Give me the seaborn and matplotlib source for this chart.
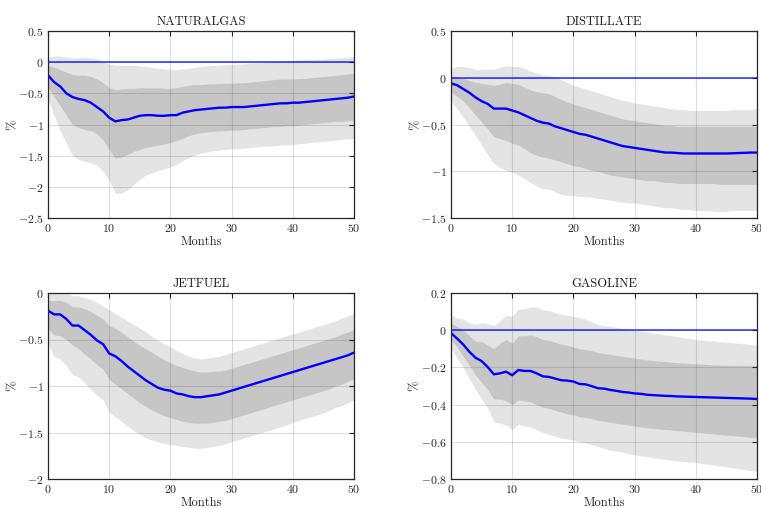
import numpy as np
import pandas as pd
import matplotlib
matplotlib.use("Agg")
import matplotlib.pyplot as plt
import seaborn as sns

months = list(range(51))

# ---------------- NATURALGAS ----------------
ng_median = [-0.21, -0.32, -0.39, -0.50, -0.56, -0.59, -0.61, -0.65, -0.72, -0.79,
             -0.89, -0.95, -0.93, -0.92, -0.89, -0.86, -0.85, -0.85, -0.86, -0.86,
             -0.85, -0.85, -0.81, -0.79, -0.77, -0.76, -0.75, -0.74, -0.73, -0.73,
             -0.72, -0.72, -0.72, -0.71, -0.70, -0.69, -0.68, -0.67, -0.66, -0.66,
             -0.65, -0.65, -0.64, -0.63, -0.62, -0.61, -0.60, -0.59, -0.58, -0.57, -0.55]
ng_up68 = [-0.05, -0.08, -0.12, -0.16, -0.20, -0.21, -0.21, -0.23, -0.27, -0.33,
           -0.41, -0.44, -0.43, -0.42, -0.42, -0.41, -0.41, -0.41, -0.41, -0.42,
           -0.42, -0.41, -0.39, -0.37, -0.36, -0.36, -0.35, -0.35, -0.34, -0.34,
           -0.34, -0.33, -0.33, -0.32, -0.31, -0.30, -0.29, -0.28, -0.27, -0.27,
           -0.27, -0.26, -0.26, -0.25, -0.24, -0.23, -0.22, -0.21, -0.20, -0.19, -0.18]
ng_lo68 = [-0.40, -0.55, -0.70, -0.85, -1.00, -1.05, -1.08, -1.10, -1.15, -1.25,
           -1.40, -1.54, -1.52, -1.48, -1.43, -1.40, -1.37, -1.35, -1.33, -1.31,
           -1.29, -1.26, -1.22, -1.18, -1.15, -1.13, -1.12, -1.11, -1.10, -1.10,
           -1.09, -1.09, -1.08, -1.07, -1.06, -1.05, -1.04, -1.03, -1.03, -1.02,
           -1.02, -1.01, -1.00, -0.99, -0.98, -0.97, -0.96, -0.95, -0.95, -0.94, -0.93]
ng_up90 = [0.08, 0.10, 0.10, 0.08, 0.06, 0.07, 0.08, 0.07, 0.05, 0.01,
           -0.03, -0.05, -0.05, -0.05, -0.05, -0.06, -0.07, -0.08, -0.10, -0.11,
           -0.11, -0.12, -0.11, -0.10, -0.08, -0.07, -0.06, -0.05, -0.05, -0.04,
           -0.04, -0.03, -0.03, -0.02, -0.01, -0.01, 0.00, 0.01, 0.02, 0.02,
           0.03, 0.03, 0.04, 0.04, 0.05, 0.05, 0.06, 0.06, 0.07, 0.08, 0.09]
ng_lo90 = [-0.60, -0.85, -1.10, -1.30, -1.50, -1.56, -1.59, -1.62, -1.65, -1.75,
           -1.90, -2.10, -2.10, -2.05, -1.97, -1.88, -1.81, -1.78, -1.74, -1.71,
           -1.68, -1.64, -1.58, -1.53, -1.49, -1.46, -1.44, -1.42, -1.41, -1.40,
           -1.39, -1.39, -1.38, -1.37, -1.36, -1.35, -1.35, -1.34, -1.33, -1.33,
           -1.32, -1.31, -1.30, -1.29, -1.28, -1.27, -1.26, -1.25, -1.24, -1.23, -1.22]

# ---------------- DISTILLATE ----------------
di_median = [-0.06, -0.08, -0.12, -0.16, -0.21, -0.25, -0.28, -0.33, -0.33, -0.33,
             -0.35, -0.37, -0.40, -0.43, -0.46, -0.48, -0.49, -0.52, -0.54, -0.56,
             -0.58, -0.60, -0.61, -0.63, -0.65, -0.67, -0.69, -0.71, -0.73, -0.74,
             -0.75, -0.76, -0.77, -0.78, -0.79, -0.80, -0.80, -0.805, -0.81, -0.81,
             -0.81, -0.81, -0.81, -0.81, -0.81, -0.81, -0.808, -0.805, -0.803, -0.80, -0.80]
di_up68 = [0.02, 0.01, -0.01, -0.03, -0.05, -0.06, -0.07, -0.08, -0.07, -0.05,
           -0.06, -0.07, -0.10, -0.13, -0.15, -0.16, -0.17, -0.20, -0.23, -0.26,
           -0.28, -0.30, -0.32, -0.34, -0.36, -0.38, -0.40, -0.42, -0.44, -0.45,
           -0.46, -0.47, -0.48, -0.49, -0.50, -0.51, -0.51, -0.52, -0.52, -0.52,
           -0.52, -0.52, -0.52, -0.52, -0.52, -0.52, -0.52, -0.52, -0.52, -0.52, -0.52]
di_lo68 = [-0.15, -0.20, -0.25, -0.32, -0.40, -0.47, -0.55, -0.63, -0.65, -0.67,
           -0.70, -0.72, -0.76, -0.80, -0.83, -0.85, -0.86, -0.88, -0.90, -0.92,
           -0.94, -0.95, -0.97, -0.99, -1.00, -1.02, -1.04, -1.05, -1.06, -1.07,
           -1.08, -1.09, -1.10, -1.10, -1.11, -1.12, -1.12, -1.13, -1.13, -1.13,
           -1.13, -1.13, -1.13, -1.13, -1.14, -1.14, -1.14, -1.14, -1.14, -1.14, -1.14]
di_up90 = [0.10, 0.12, 0.12, 0.11, 0.09, 0.09, 0.09, 0.09, 0.11, 0.13,
           0.12, 0.12, 0.10, 0.07, 0.05, 0.03, 0.02, 0.01, -0.02, -0.05,
           -0.08, -0.10, -0.12, -0.14, -0.16, -0.18, -0.20, -0.22, -0.24, -0.25,
           -0.27, -0.28, -0.29, -0.30, -0.31, -0.32, -0.33, -0.34, -0.34, -0.35,
           -0.35, -0.35, -0.35, -0.35, -0.35, -0.35, -0.34, -0.34, -0.34, -0.34, -0.33]
di_lo90 = [-0.25, -0.33, -0.42, -0.52, -0.62, -0.72, -0.82, -0.92, -0.96, -0.99,
           -1.01, -1.04, -1.08, -1.12, -1.16, -1.19, -1.19, -1.22, -1.25, -1.26,
           -1.26, -1.27, -1.27, -1.28, -1.29, -1.30, -1.31, -1.32, -1.33, -1.34,
           -1.34, -1.35, -1.36, -1.37, -1.38, -1.39, -1.39, -1.40, -1.41, -1.41,
           -1.42, -1.42, -1.42, -1.43, -1.43, -1.43, -1.42, -1.42, -1.42, -1.42, -1.42]

# ---------------- JETFUEL ----------------
jf_median = [-0.19, -0.23, -0.23, -0.28, -0.35, -0.35, -0.40, -0.45, -0.51, -0.55,
             -0.65, -0.68, -0.73, -0.79, -0.84, -0.89, -0.94, -0.98, -1.02, -1.04,
             -1.05, -1.08, -1.09, -1.11, -1.12, -1.12, -1.11, -1.10, -1.09, -1.07,
             -1.05, -1.03, -1.01, -0.99, -0.97, -0.95, -0.93, -0.91, -0.89, -0.87,
             -0.85, -0.83, -0.81, -0.79, -0.77, -0.75, -0.73, -0.71, -0.69, -0.67, -0.64]
jf_up68 = [-0.08, -0.08, -0.08, -0.10, -0.15, -0.15, -0.17, -0.20, -0.24, -0.28,
           -0.35, -0.38, -0.42, -0.47, -0.52, -0.56, -0.60, -0.64, -0.68, -0.72,
           -0.75, -0.78, -0.80, -0.82, -0.84, -0.85, -0.85, -0.84, -0.84, -0.83,
           -0.81, -0.79, -0.77, -0.75, -0.73, -0.71, -0.69, -0.67, -0.65, -0.63,
           -0.61, -0.59, -0.57, -0.55, -0.53, -0.51, -0.49, -0.47, -0.44, -0.42, -0.39]
jf_lo68 = [-0.38, -0.45, -0.46, -0.50, -0.56, -0.60, -0.66, -0.71, -0.77, -0.82,
           -0.93, -0.98, -1.03, -1.08, -1.13, -1.18, -1.22, -1.26, -1.29, -1.32,
           -1.34, -1.36, -1.38, -1.39, -1.40, -1.40, -1.40, -1.39, -1.38, -1.37,
           -1.35, -1.33, -1.31, -1.29, -1.27, -1.25, -1.23, -1.21, -1.19, -1.17,
           -1.15, -1.13, -1.11, -1.09, -1.07, -1.05, -1.03, -1.00, -0.98, -0.95, -0.92]
jf_up90 = [0.02, 0.02, 0.02, 0.00, -0.03, -0.03, -0.05, -0.07, -0.10, -0.14,
           -0.18, -0.22, -0.26, -0.30, -0.34, -0.38, -0.42, -0.47, -0.51, -0.55,
           -0.58, -0.62, -0.65, -0.68, -0.70, -0.71, -0.70, -0.69, -0.68, -0.66,
           -0.64, -0.62, -0.60, -0.58, -0.56, -0.54, -0.52, -0.50, -0.48, -0.46,
           -0.44, -0.42, -0.40, -0.38, -0.36, -0.34, -0.32, -0.30, -0.27, -0.25, -0.22]
jf_lo90 = [-0.55, -0.68, -0.71, -0.78, -0.88, -0.90, -0.97, -1.04, -1.10, -1.15,
           -1.28, -1.33, -1.38, -1.43, -1.48, -1.52, -1.56, -1.58, -1.60, -1.62,
           -1.63, -1.64, -1.65, -1.66, -1.67, -1.67, -1.66, -1.65, -1.64, -1.62,
           -1.60, -1.58, -1.56, -1.54, -1.52, -1.50, -1.48, -1.46, -1.44, -1.42,
           -1.39, -1.37, -1.35, -1.33, -1.31, -1.29, -1.26, -1.23, -1.21, -1.18, -1.15]

# ---------------- GASOLINE ----------------
gs_median = [-0.015, -0.045, -0.077, -0.116, -0.148, -0.166, -0.198, -0.237, -0.232, -0.223,
             -0.242, -0.214, -0.219, -0.219, -0.232, -0.248, -0.251, -0.260, -0.269, -0.271,
             -0.276, -0.289, -0.291, -0.301, -0.312, -0.314, -0.321, -0.326, -0.332, -0.335,
             -0.340, -0.342, -0.347, -0.349, -0.351, -0.353, -0.354, -0.356, -0.357, -0.358,
             -0.359, -0.360, -0.361, -0.362, -0.363, -0.364, -0.365, -0.366, -0.367, -0.368, -0.370]
gs_up68 = [0.04, 0.02, 0.00, -0.03, -0.06, -0.06, -0.08, -0.10, -0.07, -0.05,
           -0.07, -0.03, -0.03, -0.025, -0.035, -0.05, -0.055, -0.065, -0.075, -0.08,
           -0.09, -0.10, -0.105, -0.11, -0.12, -0.125, -0.13, -0.135, -0.14, -0.145,
           -0.15, -0.155, -0.16, -0.163, -0.166, -0.169, -0.172, -0.175, -0.177, -0.179,
           -0.181, -0.183, -0.185, -0.186, -0.187, -0.188, -0.189, -0.19, -0.19, -0.19, -0.19]
gs_lo68 = [-0.05, -0.09, -0.14, -0.19, -0.24, -0.28, -0.32, -0.37, -0.37, -0.38,
           -0.40, -0.375, -0.38, -0.385, -0.40, -0.415, -0.42, -0.43, -0.44, -0.45,
           -0.455, -0.465, -0.47, -0.475, -0.485, -0.49, -0.495, -0.50, -0.505, -0.51,
           -0.515, -0.52, -0.525, -0.528, -0.531, -0.534, -0.537, -0.54, -0.543, -0.546,
           -0.549, -0.552, -0.555, -0.558, -0.561, -0.564, -0.567, -0.57, -0.573, -0.576, -0.58]
gs_up90 = [0.085, 0.065, 0.06, 0.04, 0.03, 0.04, 0.035, 0.025, 0.05, 0.08,
           0.075, 0.115, 0.115, 0.125, 0.125, 0.11, 0.105, 0.095, 0.085, 0.08,
           0.075, 0.065, 0.06, 0.045, 0.03, 0.025, 0.02, 0.015, 0.01, 0.005,
           0.0, -0.005, -0.01, -0.015, -0.02, -0.025, -0.03, -0.035, -0.04, -0.045,
           -0.05, -0.053, -0.056, -0.059, -0.062, -0.065, -0.068, -0.071, -0.074, -0.077, -0.08]
gs_lo90 = [-0.10, -0.15, -0.20, -0.26, -0.32, -0.37, -0.42, -0.49, -0.50, -0.51,
           -0.535, -0.505, -0.515, -0.52, -0.535, -0.55, -0.56, -0.57, -0.58, -0.585,
           -0.59, -0.60, -0.605, -0.615, -0.625, -0.635, -0.645, -0.65, -0.655, -0.665,
           -0.67, -0.675, -0.68, -0.685, -0.69, -0.695, -0.70, -0.703, -0.706, -0.709,
           -0.712, -0.716, -0.72, -0.725, -0.73, -0.735, -0.74, -0.745, -0.75, -0.755, -0.76]

titles = ["NATURALGAS", "DISTILLATE", "JETFUEL", "GASOLINE"]
xticks = [0, 10, 20, 30, 40, 50]
yticks_ng = [0.5, 0, -0.5, -1, -1.5, -2, -2.5]
yticks_di = [0.5, 0, -0.5, -1, -1.5]
yticks_jf = [0, -0.5, -1, -1.5, -2]
yticks_gs = [0.2, 0, -0.2, -0.4, -0.6, -0.8]
xlabel = "Months"
ylabel = "%"

panels = [
    (ng_median, ng_lo68, ng_up68, ng_lo90, ng_up90, yticks_ng),
    (di_median, di_lo68, di_up68, di_lo90, di_up90, yticks_di),
    (jf_median, jf_lo68, jf_up68, jf_lo90, jf_up90, yticks_jf),
    (gs_median, gs_lo68, gs_up68, gs_lo90, gs_up90, yticks_gs),
]

sns.set_style("white")
plt.rcParams["font.family"] = "serif"
plt.rcParams["font.serif"] = ["cmr10", "DejaVu Serif"]
plt.rcParams["mathtext.fontset"] = "cm"
plt.rcParams["axes.unicode_minus"] = False

fig = plt.figure(figsize=(7.61, 5.08), dpi=100)
W, H = 761.0, 508.0
positions = [
    (48 / W, 1 - 218 / H, 306 / W, 187 / H),
    (451 / W, 1 - 218 / H, 306 / W, 187 / H),
    (48 / W, 1 - 479 / H, 306 / W, 186 / H),
    (451 / W, 1 - 479 / H, 306 / W, 186 / H),
]


def fmt(v):
    s = ("%g" % v)
    return "$" + s + "$"


for pos, title, (med, lo68, up68, lo90, up90, yt) in zip(positions, titles, panels):
    ax = fig.add_axes(pos)
    df = pd.DataFrame({"month": months, "median": med,
                       "lo68": lo68, "up68": up68, "lo90": lo90, "up90": up90})
    ax.fill_between(df["month"], df["lo90"], df["up90"], color="#e4e4e4",
                    linewidth=0, zorder=1)
    ax.fill_between(df["month"], df["lo68"], df["up68"], color="#c6c6c6",
                    linewidth=0, zorder=2)
    ax.axhline(0, color="#0000ff", lw=1.4, alpha=0.65, zorder=3)
    sns.lineplot(data=df, x="month", y="median", ax=ax, color="#0000ff",
                 lw=1.7, zorder=5)
    ax.set_xlim(0, 50)
    ax.set_ylim(min(yt), max(yt))
    ax.set_xticks(xticks)
    ax.set_xticklabels([fmt(v) for v in xticks])
    ax.set_yticks(yt)
    ax.set_yticklabels([fmt(v) for v in yt])
    ax.grid(True, color="#262626", alpha=0.15, lw=0.8, zorder=4)
    ax.set_axisbelow(False)
    for gl in ax.get_xgridlines() + ax.get_ygridlines():
        gl.set_zorder(4)
    ax.tick_params(direction="in", length=3.5, width=0.8, top=True, right=True,
                   labelsize=8.5, pad=3, colors="#262626")
    for sp in ax.spines.values():
        sp.set_color("#262626")
        sp.set_linewidth(0.9)
        sp.set_zorder(6)
    ax.set_title(title, fontsize=9, pad=4, color="#1a1a1a")
    ax.set_xlabel(xlabel, fontsize=9, labelpad=1, color="#262626")
    ax.set_ylabel(ylabel, fontsize=9, labelpad=0, color="#262626")

fig.savefig("out.png", dpi=100)
